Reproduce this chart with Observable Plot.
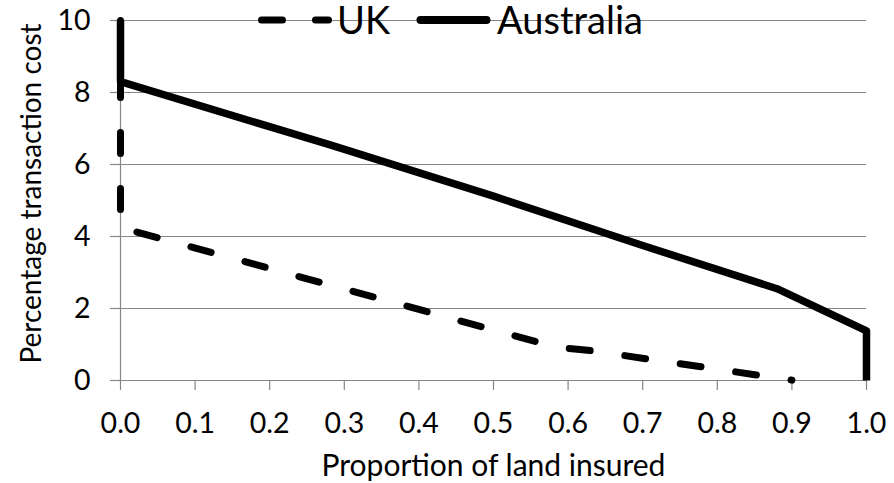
<!DOCTYPE html>
<html>
<head>
<meta charset="utf-8">
<script src="https://cdn.jsdelivr.net/npm/d3@7"></script>
<script src="https://cdn.jsdelivr.net/npm/@observablehq/plot@0.6"></script>
<style>
  html, body { margin: 0; padding: 0; background: #fff; }
  #wrap { position: relative; width: 894px; height: 483px; font-family: Lato, "Open Sans", sans-serif; }
  #legend { position: absolute; left: 0; top: 0; pointer-events: none; overflow: visible; }
</style>
</head>
<body>
<div id="wrap"></div>
<script>
// ---- data ----
const seriesNames = ["UK", "Australia"];
const ukX  = [0, 0,    0.585, 0.63, 0.9];
const ukY  = [10, 4.25, 0.92,  0.83, 0.01];
const ausX = [0, 0,   0.28, 0.5,  0.7,  0.88, 1.0,  1.0];
const ausY = [10, 8.3, 6.55, 5.12, 3.75, 2.55, 1.38, 0];
const xTicks = [0, 0.1, 0.2, 0.3, 0.4, 0.5, 0.6, 0.7, 0.8, 0.9, 1.0];
const yTicks = [0, 2, 4, 6, 8, 10];
const xTitle = "Proportion of land insured";
const yTitle = "Percentage transaction cost";

const uk = ukX.map((x, i) => ({x, y: ukY[i]}));
const aus = ausX.map((x, i) => ({x, y: ausY[i]}));

const grey = "#868686";
const DASH = "21,35";
const FONT = "Lato, 'Open Sans', sans-serif";

const chart = Plot.plot({
  width: 894,
  height: 483,
  marginLeft: 120,
  marginRight: 28,
  marginTop: 20,
  marginBottom: 103,
  x: {domain: [0, 1]},
  y: {domain: [0, 10]},
  style: {fontFamily: FONT, fontSize: "28.5px", color: "black", background: "white", overflow: "visible"},
  marks: [
    Plot.gridY(yTicks, {stroke: grey, strokeOpacity: 1, strokeWidth: 1.2}),
    Plot.ruleX([0], {stroke: grey, strokeWidth: 1.2}),
    Plot.axisY(yTicks, {tickSize: 10, tickPadding: 20, stroke: grey, strokeWidth: 1.2, label: null, fontSize: 28.5}),
    Plot.axisX(xTicks, {tickSize: 10, tickPadding: 22, stroke: grey, strokeWidth: 1.2, label: null, tickFormat: d3.format(".1f"), fontSize: 28.5}),
    Plot.line(uk, {x: "x", y: "y", stroke: "black", strokeWidth: 7, strokeDasharray: DASH, strokeLinecap: "round", strokeLinejoin: "round"}),
    Plot.line(aus, {x: "x", y: "y", stroke: "black", strokeWidth: 7.5, strokeLinecap: "butt", strokeLinejoin: "round"}),
    Plot.text([xTitle], {frameAnchor: "bottom", textAnchor: "middle", dy: 86, fontSize: 30, lineAnchor: "middle", fill: "black"}),
    Plot.text([yTitle], {frameAnchor: "left", textAnchor: "middle", dx: -88, dy: -7, rotate: -90, fontSize: 28, lineAnchor: "middle", fill: "black"})
  ]
});
document.getElementById("wrap").appendChild(chart);

// ---- legend (overlaid at the top of the plot area) ----
const leg = d3.select("#wrap").append("svg")
  .attr("id", "legend").attr("width", 894).attr("height", 60);
const items = [
  {name: seriesNames[0], x1: 261.5, x2: 328.5, tx: 337, dash: "21,33", w: 7},
  {name: seriesNames[1], x1: 420.5, x2: 486.5, tx: 497, dash: null, w: 8}
];
items.forEach(it => {
  const l = leg.append("line")
    .attr("x1", it.x1).attr("x2", it.x2).attr("y1", 20).attr("y2", 20)
    .attr("stroke", "black").attr("stroke-width", it.w).attr("stroke-linecap", "round");
  if (it.dash) l.attr("stroke-dasharray", it.dash);
  leg.append("text").attr("x", it.tx).attr("y", 34)
    .attr("font-family", FONT).attr("font-size", 38)
    .attr("fill", "black").text(it.name);
});
</script>
</body>
</html>
